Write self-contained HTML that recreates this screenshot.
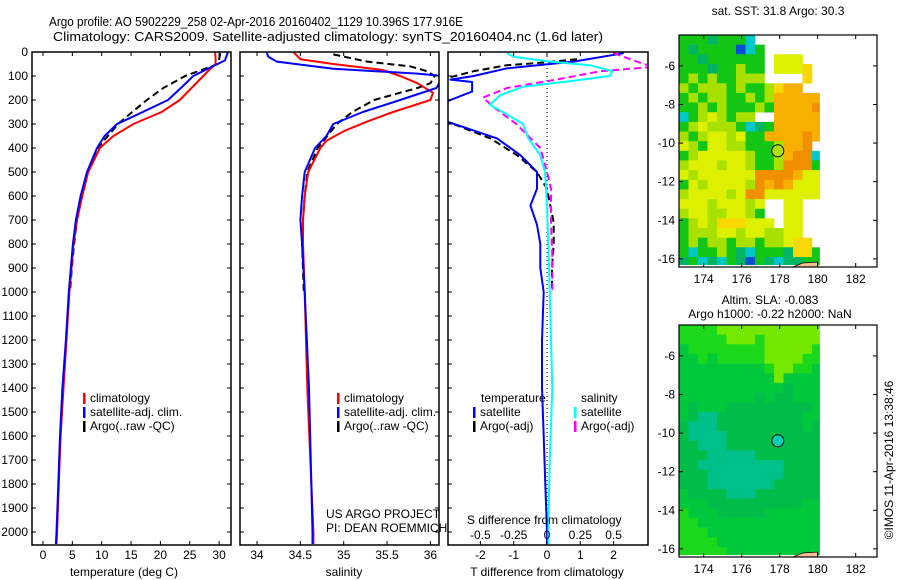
<!DOCTYPE html>
<html><head><meta charset="utf-8"><style>
html,body{margin:0;padding:0;background:#fff;}
svg{display:block;font-family:"Liberation Sans",Arial,sans-serif;}
</style></head>
<body>
<svg id="fig" width="900" height="580" viewBox="0 0 900 580" xmlns="http://www.w3.org/2000/svg">
<rect width="900" height="580" fill="#fff"/>
<text x="49" y="26" font-size="13" textLength="414" lengthAdjust="spacingAndGlyphs">Argo profile: AO 5902229_258 02-Apr-2016 20160402_1129 10.396S 177.916E</text>
<text x="53" y="41" font-size="13" textLength="550" lengthAdjust="spacingAndGlyphs">Climatology: CARS2009. Satellite-adjusted climatology: synTS_20160404.nc (1.6d later)</text>
<g id="layer"></g>
</svg>
<script>
// ---------- profile data ----------
const tDepth = [0,25,50,75,100,150,200,250,300,350,400,500,600,700,800,1000,1200,1400,1600,1800,2000,2050];
const tClim  = [29.3,29.4,29.4,28.3,27.3,25.3,23.3,20.2,15.4,12.0,9.7,7.7,6.7,5.8,5.2,4.5,4.0,3.5,3.0,2.7,2.4,2.3];
const tSatDepth = [0,35,61,100,150,200,250,300,350,400,500,600,700,800,1000,1200,1400,1600,1800,2000,2050];
const tSat   = [31.5,31.0,28.8,25.6,23.5,21.3,17.0,12.6,10.5,9.2,7.5,6.4,5.6,5.1,4.4,3.9,3.3,2.9,2.6,2.3,2.2];
const tArgoDepth = [5,30,50,60,100,150,200,250,300,400,500,600,700,800,900,1000];
const tArgo  = [30.2,30.0,29.8,28.7,24.2,20.5,17.7,15.2,12.8,9.3,7.6,6.6,5.8,5.3,4.9,4.6];

const sClimDepth = [0,30,50,75,100,130,170,200,250,290,330,370,400,500,600,700,800,1000,1400,2000,2050];
const sClim = [34.42,34.5,34.88,35.45,35.65,35.85,36.03,36.0,35.57,35.27,35.0,34.8,34.73,34.59,34.55,34.53,34.53,34.55,34.58,34.65,34.65];
const sSatDepth = [0,20,40,70,90,100,150,200,250,300,350,400,500,600,700,800,1000,1400,2000,2050];
const sSat = [34.11,34.13,34.23,34.88,35.85,36.15,36.07,35.65,35.22,34.88,34.8,34.67,34.55,34.52,34.5,34.52,34.55,34.6,34.64,34.64];
const sArgoDepth = [10,40,60,80,100,130,150,200,250,300,400,500,600,700,800,1000];
const sArgo = [34.88,35.27,35.77,35.96,36.05,36.0,35.85,35.35,35.1,34.92,34.7,34.58,34.55,34.53,34.52,34.54];

const dtSatDepth = [5,40,68,100,115,125,165,200,230,290,360,430,500,570,640,720,800,900,1000,1200,1400,1600,1800,2000,2050];
const dtSat = [2.3,0.8,-1.2,-2.2,-2.9,-2.25,-2.25,-2.9,-3.5,-3.0,-1.5,-0.8,-0.3,-0.3,-0.5,-0.3,-0.2,-0.2,-0.1,-0.15,-0.15,-0.1,-0.05,0.0,0.0];
const dtArgoDepth = [30,45,55,80,105,130,290,360,430,500,570,640,710,800,900,1000];
const dtArgo = [0.9,-0.2,-1.2,-2.2,-2.9,-3.5,-3.0,-1.7,-0.9,-0.3,0,0.1,0.2,0.2,0.15,0.15];
const dsSatDepth = [5,20,40,55,80,100,120,145,180,220,260,300,360,430,500,640,800,1000,1400,1700,2000,2050];
const dsSat = [-0.3,-0.25,0.02,0.32,0.49,0.47,0.2,-0.18,-0.35,-0.43,-0.3,-0.18,-0.14,-0.05,-0.015,0.0,0.01,0.02,0.04,0.02,0.01,0.01];
const dsArgoDepth = [5,45,62,80,115,150,190,230,300,400,500,570,710,850,1000];
const dsArgo = [0.5,0.7,0.8,0.4,0.07,-0.3,-0.48,-0.4,-0.23,-0.05,0.0,0.03,0.03,0.04,0.04];

const depthTicks = [0,100,200,300,400,500,600,700,800,900,1000,1100,1200,1300,1400,1500,1600,1700,1800,1900,2000];
const tempTicks = [0,5,10,15,20,25,30];
const salTicks = [34,34.5,35,35.5,36];
const tdiffTicks = [-2,-1,0,1,2];
const sdiffTicks = [-0.5,-0.25,0,0.25,0.5];
const sdiffLabels = ["-0.5","-0.25","0","0.25","0.5"];

// ---------- map data (0.5 deg cells, lon 172.7.., lat -4.4..) ----------
const sstRows = [
"gggtgggc.......",
"gtggggbcg......",
"ggtgggggg.yyy..",
"gggtgglgg.yyyY.",
"glglgglll....Y.",
"lglllglgglYoo..",
"glgllgglglooooo",
"gglglggglgooooO",
"cglylgll..ooooo",
"glylllgctgooooo",
"lglyylyggooooOo",
"ylgyyllggglooO.",
"glyyyyylggloOOc",
"lyyylyylgglOOOg",
"ylyyyyyyOOOOoyy",
"gylyyyylOoOoyyy",
"lyyyylyOOyyyyyy",
"yyylyyyly..yy..",
"lyyllyylg..yy..",
"glylYYYyyy.yy..",
"glllyylyyllyy..",
"glgllgllgllyYY.",
"gcgglgtcgggtYYg",
"tgctcgtbgtcttgg"];
const sstColors = {g:"#14c614",t:"#00b464",c:"#00c8c8",b:"#0050d0",l:"#a8e000",y:"#dcf000",Y:"#f8d800",o:"#f8b000",O:"#f09000"};
const slaRows = [
"GGGGLLLLLLLLLLL",
"GGGGGLLLGLLLLLL",
"gGGGGGGGGLLLLLG",
"ggGgGGGGGLLLLGG",
"gggggggggGLLGGg",
"ggggggggggLgggg",
"gggggggggggdggg",
"ggggggggdgddggg",
"gdgggdddddddddg",
"gdttdddddddddgg",
"dtttdddddddddgd",
"dttttdddddddddd",
"ddtttdddddddddd",
"dddtttttddddddd",
"ddtttttttttdddd",
"dddttttttttdddd",
"dddtttttttddddd",
"gddddtttddddddd",
"gggddddddddddgg",
"Ggggdddddgggggg",
"GGggggggggggggg",
"GGGgggggggggggg",
"GGGGggggggggggg",
"GGGGGgggggggggg"];
const slaColors = {L:"#74e800",G:"#1cd81c",g:"#00c83c",d:"#00bc48",t:"#00c08a"};
const mapLonTicks = [174,176,178,180,182];
const mapLatTicks = [-6,-8,-10,-12,-14,-16];
const argoLon = 177.9, argoLat = -10.4;

// ---------- helpers ----------
const NS = "http://www.w3.org/2000/svg";
const layer = document.getElementById('layer');
function mk(tag, attrs, parent){ const e=document.createElementNS(NS,tag); for(const k in attrs) e.setAttribute(k,attrs[k]); (parent||layer).appendChild(e); return e; }
function txt(s,x,y,attrs){ const a=Object.assign({x:x,y:y,'font-size':12},attrs||{}); const e=mk('text',a); e.textContent=s; return e; }

const TOP=52, BOT=545;
const yD = d => TOP + d*0.24;
const xT = t => 43 + t*5.87;
const xS = s => 257 + (s-34)*86.7;
const xdT = t => 547 + t*33.3;
const xdS = s => 547 + s*133.3;

function frame(x0,x1,name){
  const r=mk('rect',{x:x0,y:TOP,width:x1-x0,height:BOT-TOP,fill:'none',stroke:'#000','stroke-width':1.5});
  
  
}
function clip(id,x0,x1){ const c=mk('clipPath',{id:id}); mk('rect',{x:x0,y:TOP,width:x1-x0,height:BOT-TOP},c); }
function series(depths, vals, xf, color, dash, clipId, name){
  let d=''; for(let i=0;i<depths.length;i++){ d+=(i?'L':'M')+xf(vals[i]).toFixed(1)+','+yD(depths[i]).toFixed(1); }
  const p=mk('path',{d:d,fill:'none',stroke:color,'stroke-width':2,'stroke-dasharray':dash||'none','clip-path':'url(#'+clipId+')','stroke-linejoin':'round'});
  
  
}
function yTicks(x0,x1,labels){
  depthTicks.forEach(d=>{
    const y=yD(d);
    mk('line',{x1:x0,y1:y,x2:x0+4,y2:y,stroke:'#000'});
    mk('line',{x1:x1,y1:y,x2:x1-4,y2:y,stroke:'#000'});
    if(labels){ const t=txt(String(d),28,y+4,{'text-anchor':'end'});
      
       }
  });
}
function xTicks(vals,xf,labels,ly){
  vals.forEach((v,i)=>{
    const x=xf(v);
    mk('line',{x1:x,y1:BOT,x2:x,y2:BOT-4,stroke:'#000'});
    mk('line',{x1:x,y1:TOP,x2:x,y2:TOP+4,stroke:'#000'});
    if(labels){ const t=txt(labels[i],x,ly,{'text-anchor':'middle'});
      
       }
  });
}
function legend(x,y,color,label,name){
  mk('rect',{x:x,y:y-9,width:2.5,height:11,fill:color});
  const t=txt(label,x+7,y);
  
  
}

// ---------- panel 1: temperature ----------
clip('c1',32,231); clip('c2',240,439); clip('c3',448,648);
series(tArgoDepth,tArgo,xT,'#000','7,4','c1','temp-argo-line');
series(tDepth,tClim,xT,'#f00',null,'c1','temp-climatology-line');
series(tSatDepth,tSat,xT,'#00f',null,'c1','temp-satellite-line');
frame(32,231,'temperature-panel');
yTicks(32,231,true);
xTicks(tempTicks,xT,tempTicks.map(String),559);
{const t=txt('temperature (deg C)',124,576,{'text-anchor':'middle'});  }
legend(83,402,'#f00','climatology','legend-climatology');
legend(83,416,'#00f','satellite-adj. clim.','legend-satellite');
legend(83,430,'#000','Argo(..raw -QC)','legend-argo');

// ---------- panel 2: salinity ----------
series(sArgoDepth,sArgo,xS,'#000','7,4','c2','sal-argo-line');
series(sClimDepth,sClim,xS,'#f00',null,'c2','sal-climatology-line');
series(sSatDepth,sSat,xS,'#00f',null,'c2','sal-satellite-line');
frame(240,439,'salinity-panel');
yTicks(240,439,false);
xTicks(salTicks,xS,salTicks.map(String),559);
{const t=txt('salinity',344,576,{'text-anchor':'middle'});  }
legend(337,402,'#f00','climatology','legend-climatology-2');
legend(337,416,'#00f','satellite-adj. clim.','legend-satellite-2');
legend(337,430,'#000','Argo(..raw -QC)','legend-argo-2');
{const t=txt('US ARGO PROJECT',326,518);  
 const u=txt('PI: DEAN ROEMMICH',326,532);  }

// ---------- panel 3: differences ----------
mk('line',{x1:547,y1:TOP,x2:547,y2:BOT,stroke:'#000','stroke-dasharray':'1,3'});
series(dtArgoDepth,dtArgo,xdT,'#000','7,4','c3','tdiff-argo-line');
series(dtSatDepth,dtSat,xdT,'#00f',null,'c3','tdiff-satellite-line');
series(dsArgoDepth,dsArgo,xdS,'#f0f','7,4','c3','sdiff-argo-line');
series(dsSatDepth,dsSat,xdS,'#0ff',null,'c3','sdiff-satellite-line');
frame(448,648,'difference-panel');
depthTicks.forEach(d=>{ const y=yD(d); mk('line',{x1:448,y1:y,x2:452,y2:y,stroke:'#000'}); });
tdiffTicks.forEach(v=>{ const x=xdT(v); mk('line',{x1:x,y1:BOT,x2:x,y2:BOT-4,stroke:'#000'}); const t=txt(String(v),x,559,{'text-anchor':'middle'});   });
sdiffTicks.forEach((v,i)=>{ const x=xdS(v); mk('line',{x1:x,y1:TOP,x2:x,y2:TOP+4,stroke:'#000'}); const t=txt(sdiffLabels[i],x,539,{'text-anchor':'middle'});   });
{const t=txt('S difference from climatology',467,524);  
 const u=txt('T difference from climatology',547,576,{'text-anchor':'middle'});  }
{const t=txt('temperature',481,402);  
 const u=txt('salinity',581,402);  }
legend(473,416,'#00f','satellite','legend-t-satellite');
legend(473,430,'#000','Argo(-adj)','legend-t-argo');
legend(574,416,'#0ff','satellite','legend-s-satellite');
legend(574,430,'#f0f','Argo(-adj)','legend-s-argo');

// ---------- maps ----------
const mX = lon => 679 + (lon-172.7)*19;
function drawMap(top, rows, colors, name, circleColor){
  const mY = lat => top + (-4.4-lat)*19.3;
  const g=mk('g',{});
  
  
  rows.forEach((row,r)=>{
    for(let c=0;c<row.length;c++){
      const col=colors[row[c]]; if(!col) continue;
      const lon0=172.7+c*0.5, lat0=-4.4-r*0.5;
      const x0=mX(lon0), x1=Math.min(mX(lon0+0.5),mX(180.1));
      const y0=mY(lat0), y1=Math.min(mY(lat0-0.5),top+229.7);
      mk('rect',{x:x0.toFixed(1),y:y0.toFixed(1),width:(x1-x0+0.3).toFixed(1),height:(y1-y0+0.3).toFixed(1),fill:col},g);
    }
  });
  mk('path',{d:`M${mX(178.7)},${top+232} L${mX(179.2)},${top+228} L${mX(180)},${top+227} L${mX(180)},${top+232}Z`,fill:'#f4c090',stroke:'#000','stroke-width':0.8},g);
  const circ=mk('circle',{cx:mX(argoLon),cy:mY(argoLat),r:6,fill:circleColor,stroke:'#000','stroke-width':1},g);
  
  
  mk('rect',{x:679,y:top,width:198,height:232,fill:'none',stroke:'#000','stroke-width':1.2},g);
  mapLonTicks.forEach(l=>{ const x=mX(l);
    mk('line',{x1:x,y1:top,x2:x,y2:top+4,stroke:'#000'},g);
    mk('line',{x1:x,y1:top+232,x2:x,y2:top+228,stroke:'#000'},g);
    const t=txt(String(l),x,top+248,{'text-anchor':'middle'});   });
  mapLatTicks.forEach(l=>{ const y=mY(l);
    mk('line',{x1:679,y1:y,x2:683,y2:y,stroke:'#000'},g);
    mk('line',{x1:877,y1:y,x2:873,y2:y,stroke:'#000'},g);
    const t=txt(String(l),675,y+4,{'text-anchor':'end'});   });
}
drawMap(35, sstRows, sstColors, 'sst-map', '#b0e000');
drawMap(325, slaRows, slaColors, 'sla-map', '#00d0b8');
{const t=txt('sat. SST: 31.8 Argo: 30.3',778,15,{'text-anchor':'middle'});  
 const u=txt('Altim. SLA: -0.083',770,304,{'text-anchor':'middle'});  
 const v=txt('Argo h1000: -0.22 h2000: NaN',770,318,{'text-anchor':'middle'});  
 const w=txt('©IMOS 11-Apr-2016 13:38:46',0,0,{'text-anchor':'middle',transform:'translate(893,460) rotate(-90)'});  }
</script>
</body></html>
